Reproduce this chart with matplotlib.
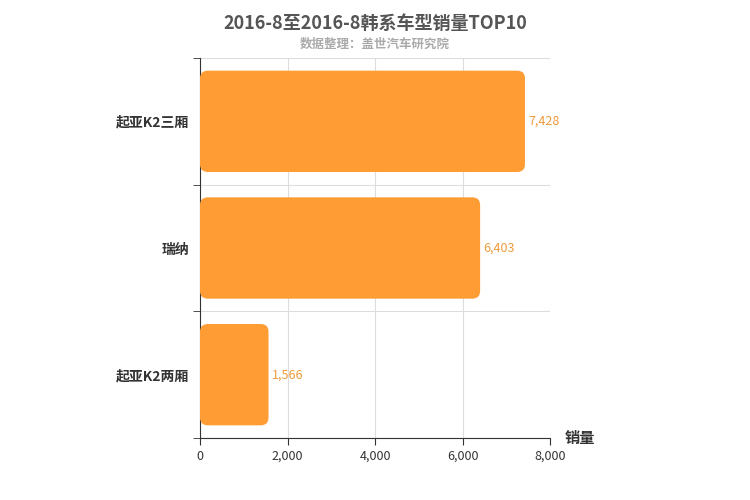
import matplotlib.pyplot as plt
from matplotlib.patches import FancyBboxPatch

plt.rcParams['font.family'] = ['Noto Sans CJK SC', 'DejaVu Sans']

models = ["起亚K2三厢", "瑞纳", "起亚K2两厢"]
sales = [7428, 6403, 1566]

fig = plt.figure(figsize=(7.5, 5), dpi=100)
ax = fig.add_axes([200 / 750, 62 / 500, 350 / 750, 380 / 500])

ypos = list(range(len(models)))[::-1]
bars = ax.barh(ypos, sales, height=0.8, color="none")
for b in bars:
    x, y, w, h = b.get_x(), b.get_y(), b.get_width(), b.get_height()
    ax.add_patch(FancyBboxPatch((x, y), w, h,
                                boxstyle="round,pad=0,rounding_size=180",
                                mutation_aspect=0.00034,
                                facecolor="#ff9c33", edgecolor="none", zorder=3))
    ax.text(w + 80, y + h / 2, f"{w:,.0f}", va="center", ha="left",
            color="#f09a3a", fontsize=9, zorder=4)

ax.set_xlim(0, 8000)
ax.set_ylim(-0.5, len(models) - 0.5)
ax.set_xticks(range(0, 8001, 2000))
ax.set_xticklabels([f"{v:,}" for v in range(0, 8001, 2000)], fontsize=9, color="#333")
ax.set_yticks(ypos)
ax.set_yticklabels(models, fontsize=10, fontweight="bold", color="#333")
ax.tick_params(axis="y", length=0, pad=8)
ax.set_yticks([-0.5, 0.5, 1.5, 2.5], minor=True)
ax.tick_params(axis="y", which="minor", length=5, color="#333")
ax.tick_params(axis="x", length=5, color="#333")
ax.grid(axis="x", color="#dddddd", linewidth=0.8, zorder=0)
ax.grid(axis="y", which="minor", color="#dddddd", linewidth=0.8, zorder=0)
ax.set_axisbelow(True)
for s in ["top", "right"]:
    ax.spines[s].set_visible(False)
ax.spines["left"].set_color("#333")
ax.spines["bottom"].set_color("#333")

fig.text(0.5, 0.972, "2016-8至2016-8韩系车型销量TOP10", ha="center", va="top",
         fontsize=13, fontweight="bold", color="#555")
fig.text(0.5, 0.925, "数据整理：盖世汽车研究院", ha="center", va="top",
         fontsize=9, fontweight="bold", color="#aaaaaa")
fig.text(565 / 750, 1 - 438 / 500, "销量", ha="left", va="center",
         fontsize=11, fontweight="bold", color="#333")

fig.savefig("out.png", dpi=100)
